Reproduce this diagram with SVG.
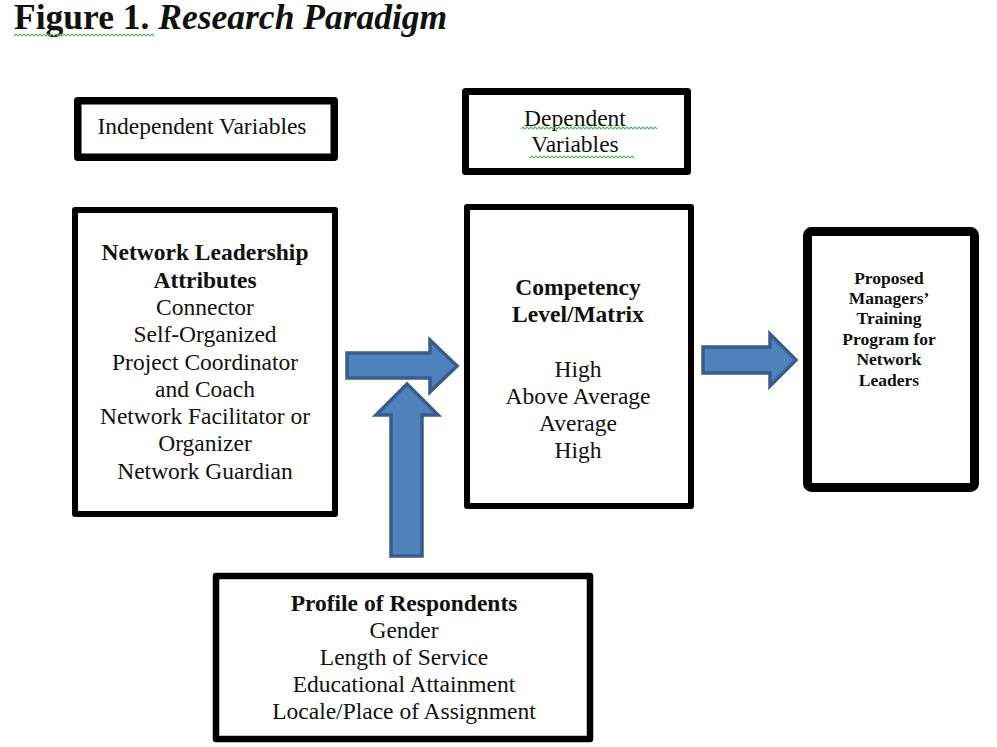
<svg xmlns="http://www.w3.org/2000/svg" width="997" height="747" viewBox="0 0 997 747">
<style>
  .t { font-family: "Liberation Serif", "Times New Roman", serif; fill: #111; text-anchor: middle; }
  .n { font-size: 23.5px; }
  .b { font-size: 23.5px; font-weight: bold; }
  .s { font-size: 17.5px; font-weight: bold; }
  .box { fill: #fff; stroke: #000; stroke-linejoin: round; }
  .arr { fill: #4F81BD; stroke: #385D8A; stroke-width: 3.5; stroke-linejoin: miter; }
  .sq { fill: none; stroke: #5DB85D; stroke-width: 1.2; }
</style>
<rect width="997" height="747" fill="#fff"/>
<g id="title">
  <text x="14" y="29" font-family="Liberation Serif, serif" font-size="35.5" fill="#111"><tspan font-weight="bold">Figure 1. </tspan><tspan font-weight="bold" font-style="italic">Research Paradigm</tspan></text>
  <path class="sq" d="M14 36 l2 -2 l2 2 l2 -2 l2 2 l2 -2 l2 2 l2 -2 l2 2 l2 -2 l2 2 l2 -2 l2 2 l2 -2 l2 2 l2 -2 l2 2 l2 -2 l2 2 l2 -2 l2 2 l2 -2 l2 2 l2 -2 l2 2 l2 -2 l2 2 l2 -2 l2 2 l2 -2 l2 2 l2 -2 l2 2 l2 -2 l2 2 l2 -2 l2 2 l2 -2 l2 2 l2 -2 l2 2 l2 -2 l2 2 l2 -2 l2 2 l2 -2 l2 2 l2 -2 l2 2 l2 -2 l2 2 l2 -2 l2 2 l2 -2 l2 2 l2 -2 l2 2 l2 -2 l2 2 l2 -2 l2 2 l2 -2 l2 2 l2 -2 l2 2 l2 -2 l2 2 l2 -2 l2 2 l2 -2 l2 2"/>
</g>
<g id="independent-label">
  <rect class="box" x="77.75" y="100.75" width="256.5" height="56.5" stroke-width="7.5"/>
  <text class="t n" x="202" y="134">Independent Variables</text>
</g>
<g id="dependent-label">
  <rect class="box" x="465.5" y="91.5" width="222" height="80" stroke-width="7"/>
  <text class="t n" x="575" y="126">Dependent</text>
  <text class="t n" x="575" y="152">Variables</text>
  <path class="sq" d="M521 129 l2 -2 l2 2 l2 -2 l2 2 l2 -2 l2 2 l2 -2 l2 2 l2 -2 l2 2 l2 -2 l2 2 l2 -2 l2 2 l2 -2 l2 2 l2 -2 l2 2 l2 -2 l2 2 l2 -2 l2 2 l2 -2 l2 2 l2 -2 l2 2 l2 -2 l2 2 l2 -2 l2 2 l2 -2 l2 2 l2 -2 l2 2 l2 -2 l2 2 l2 -2 l2 2 l2 -2 l2 2 l2 -2 l2 2 l2 -2 l2 2 l2 -2 l2 2 l2 -2 l2 2 l2 -2 l2 2 l2 -2 l2 2 l2 -2 l2 2 l2 -2 l2 2 l2 -2 l2 2 l2 -2 l2 2 l2 -2 l2 2 l2 -2 l2 2 l2 -2 l2 2 l2 -2 l2 2"/>
  <path class="sq" d="M530 158 l2 -2 l2 2 l2 -2 l2 2 l2 -2 l2 2 l2 -2 l2 2 l2 -2 l2 2 l2 -2 l2 2 l2 -2 l2 2 l2 -2 l2 2 l2 -2 l2 2 l2 -2 l2 2 l2 -2 l2 2 l2 -2 l2 2 l2 -2 l2 2 l2 -2 l2 2 l2 -2 l2 2 l2 -2 l2 2 l2 -2 l2 2 l2 -2 l2 2 l2 -2 l2 2 l2 -2 l2 2 l2 -2 l2 2 l2 -2 l2 2 l2 -2 l2 2 l2 -2 l2 2 l2 -2 l2 2 l2 -2 l2 2"/>
</g>
<g id="network-leadership">
  <rect class="box" x="75" y="210" width="260" height="304" stroke-width="6"/>
  <text class="t b" x="205" y="260">Network Leadership</text>
  <text class="t b" x="205" y="288">Attributes</text>
  <text class="t n" x="205" y="315">Connector</text>
  <text class="t n" x="205" y="342">Self-Organized</text>
  <text class="t n" x="205" y="370">Project Coordinator</text>
  <text class="t n" x="205" y="397">and Coach</text>
  <text class="t n" x="205" y="424">Network Facilitator or</text>
  <text class="t n" x="205" y="451">Organizer</text>
  <text class="t n" x="205" y="479">Network Guardian</text>
</g>
<g id="competency">
  <rect class="box" x="467" y="207" width="224" height="299" stroke-width="6"/>
  <text class="t b" x="578" y="295">Competency</text>
  <text class="t b" x="578" y="322">Level/Matrix</text>
  <text class="t n" x="578" y="377">High</text>
  <text class="t n" x="578" y="404">Above Average</text>
  <text class="t n" x="578" y="431">Average</text>
  <text class="t n" x="578" y="458">High</text>
</g>
<g id="training-program">
  <rect class="box" x="807.5" y="231.5" width="167" height="256" stroke-width="9" rx="4"/>
  <text class="t s" x="889" y="284">Proposed</text>
  <text class="t s" x="889" y="304">Managers’</text>
  <text class="t s" x="889" y="324">Training</text>
  <text class="t s" x="889" y="345">Program for</text>
  <text class="t s" x="889" y="365">Network</text>
  <text class="t s" x="889" y="386">Leaders</text>
</g>
<g id="profile">
  <rect class="box" x="216" y="576" width="374" height="163" stroke-width="6.5"/>
  <text class="t b" x="404" y="611">Profile of Respondents</text>
  <text class="t n" x="404" y="638">Gender</text>
  <text class="t n" x="404" y="665">Length of Service</text>
  <text class="t n" x="404" y="692">Educational Attainment</text>
  <text class="t n" x="404" y="719">Locale/Place of Assignment</text>
</g>
<g id="connectors">
  <path class="arr" d="M347 353 L430 353 L430 340 L457 366 L430 392 L430 378 L347 378 Z"/>
  <path class="arr" d="M391 556 L391 415 L376 415 L407 384 L438 415 L422 415 L422 556 Z"/>
  <path class="arr" d="M703 347 L770 347 L770 334 L796 360 L770 386 L770 373 L703 373 Z"/>
</g>
</svg>
